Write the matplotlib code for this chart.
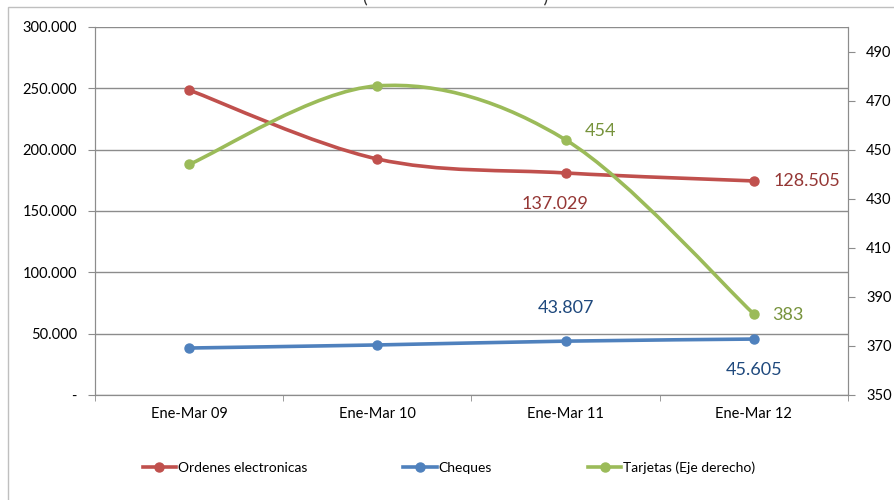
import numpy as np
import matplotlib.pyplot as plt
from matplotlib.path import Path
from matplotlib.patches import PathPatch, Rectangle
from matplotlib.lines import Line2D
from matplotlib.ticker import FuncFormatter

plt.rcParams['font.family'] = ['Lato', 'DejaVu Sans']

# data
periods = ["Ene-Mar 09", "Ene-Mar 10", "Ene-Mar 11", "Ene-Mar 12"]
ordenes = [248600, 192400, 181000, 174500]
cheques = [38300, 40800, 43900, 45600]
tarjetas = [444, 476, 454, 383]

ordenes_labels = {2: "137.029", 3: "128.505"}
cheques_labels = {2: "43.807", 3: "45.605"}
tarjetas_labels = {2: "454", 3: "383"}

RED, BLUE, GREEN = "#C0504D", "#4F81BD", "#9BBB59"
GRID = "#8C8C8C"


def smooth_path(xs, ys):
    # excel style smoothed line: cubic bezier through every point
    pts = np.column_stack([xs, ys]).astype(float)
    n = len(pts)
    verts = [pts[0]]
    codes = [Path.MOVETO]
    for i in range(n - 1):
        p0 = pts[max(i - 1, 0)]
        p1 = pts[i]
        p2 = pts[i + 1]
        p3 = pts[min(i + 2, n - 1)]
        verts += [p1 + (p2 - p0) / 6.0, p2 - (p3 - p1) / 6.0, p2]
        codes += [Path.CURVE4] * 3
    return Path(verts, codes)


def draw_series(ax, ys, color):
    xs = np.arange(len(ys))
    # smooth the curve in display space so both axes look right
    disp = ax.transData.transform(np.column_stack([xs, ys]))
    path = smooth_path(disp[:, 0], disp[:, 1])
    ax.add_patch(PathPatch(path, transform=None, fill=False, edgecolor=color,
                           lw=2.6, capstyle='round', joinstyle='round', zorder=3))
    ax.plot(xs, ys, 'o', color=color, ms=6.5, zorder=4)


fig = plt.figure(figsize=(8.95, 5.0), dpi=100)
ax = fig.add_axes([95 / 895, 105 / 500, 753 / 895, 368 / 500])
ax2 = ax.twinx()

x = np.arange(len(periods))
ax.set_xlim(-0.5, len(periods) - 0.5)
ax.set_ylim(0, 300000)
ax2.set_ylim(350, 500)

ax.set_yticks(np.arange(0, 300001, 50000))
ax.yaxis.set_major_formatter(FuncFormatter(
    lambda v, p: "-" if v == 0 else f"{v:,.0f}".replace(",", ".")))
ax2.set_yticks(np.arange(350, 491, 20))

ax.set_xticks(x)
ax.set_xticklabels(periods)
ax.set_xticks(np.arange(-0.5, len(periods)), minor=True)
ax.tick_params(axis='x', which='major', length=0, pad=9, labelsize=10.5)
ax.tick_params(axis='x', which='minor', length=4, color=GRID, direction='out')
ax.tick_params(axis='y', length=5, color=GRID, labelsize=10.5, pad=8)
ax2.tick_params(axis='y', length=5, color=GRID, labelsize=10.5, pad=8)

ax.grid(axis='y', color=GRID, lw=1)
for a in (ax, ax2):
    for s in a.spines.values():
        s.set_color(GRID)
    a.spines['top'].set_visible(False)
ax.set_axisbelow(True)

fig.canvas.draw()
draw_series(ax, ordenes, RED)
draw_series(ax, cheques, BLUE)
draw_series(ax2, tarjetas, GREEN)

# data labels
for i, t in ordenes_labels.items():
    if i == 3:
        ax.annotate(t, (x[i], ordenes[i]), xytext=(14, 0), textcoords='offset points',
                    ha='left', va='center', color="#953735", fontsize=13)
    else:
        ax.annotate(t, (x[i], ordenes[i]), xytext=(-8, -22), textcoords='offset points',
                    ha='center', va='center', color="#953735", fontsize=13)
for i, t in cheques_labels.items():
    dy = 24 if i == 2 else -22
    ax.annotate(t, (x[i], cheques[i]), xytext=(0, dy), textcoords='offset points',
                ha='center', va='center', color="#1F497D", fontsize=13)
for i, t in tarjetas_labels.items():
    ax2.annotate(t, (x[i], tarjetas[i]), xytext=(13.5, 6.5 if i == 2 else -1),
                 textcoords='offset points', ha='left', va='center',
                 color="#77933C", fontsize=13)

# legend
handles = [Line2D([], [], color=c, lw=2.6, marker='o', ms=6.5) for c in (RED, BLUE, GREEN)]
fig.legend(handles, ["Ordenes electronicas", "Cheques", "Tarjetas (Eje derecho)"],
           loc='center', bbox_to_anchor=(449 / 895, 32 / 500), ncol=3, frameon=False,
           fontsize=10, handlelength=2.4, handletextpad=0.15, columnspacing=6.9)

# chart border and the clipped title
fig.patches.append(Rectangle((8 / 895, -0.1), 1.2, 0.1 + 493 / 500, transform=fig.transFigure,
                             fill=False, edgecolor="#BFBFBF", lw=1))
fig.text(0.509, 1.003, "(                                      )", ha='center', va='center',
         fontsize=13, color="#333333")

fig.savefig("out.png", dpi=100)
